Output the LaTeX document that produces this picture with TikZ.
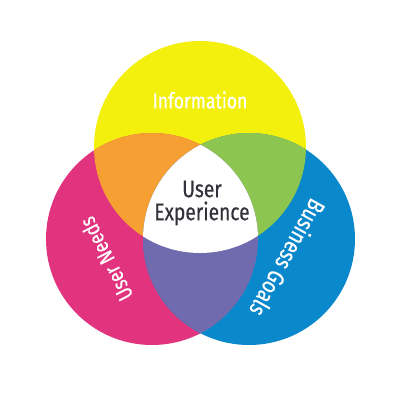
\documentclass[tikz,border=0pt]{standalone}
\usepackage{fontspec}
\usepackage{xcolor}
\usepackage{tikz}
\newfontfamily\vennfont{Fira Sans}[FakeStretch=0.8, FakeBold=0.4]
\definecolor{infoyellow}{RGB}{244, 240, 14}
\definecolor{needpink}{RGB}{226, 51, 126}
\definecolor{goalblue}{RGB}{10, 136, 204}
\definecolor{mixorange}{RGB}{246, 160, 51}
\definecolor{mixgreen}{RGB}{140, 197, 80}
\definecolor{mixpurple}{RGB}{111, 107, 174}
\definecolor{uxdark}{RGB}{50, 50, 58}
\tikzset{
  label/.style={font=\vennfont\fontsize{22bp}{24bp}\selectfont, text=white,
    inner sep=0pt, align=center},
  centre/.style={font=\vennfont\fontsize{24bp}{23bp}\selectfont, text=uxdark,
    inner sep=0pt, align=center},
}

\begin{document}
\begin{tikzpicture}[x=1bp, y=-1bp]

  % ── Canvas ──
  \useasboundingbox (0,0) rectangle (400,400);
  \fill[white] (0,0) rectangle (400,400);

  % ── Circle centres ──
  \coordinate (info)  at (200,147);
  \coordinate (needs) at (152,239);
  \coordinate (goals) at (249,239);
  \def\vennr{106}

  % ── Circles ──
  \fill[infoyellow] (info)  circle (\vennr);
  \fill[needpink]   (needs) circle (\vennr);
  \fill[goalblue]   (goals) circle (\vennr);

  % ── Overlaps ──
  \begin{scope}
    \clip (info) circle (\vennr);
    \fill[mixorange] (needs) circle (\vennr);
    \fill[mixgreen]  (goals) circle (\vennr);
  \end{scope}
  \begin{scope}
    \clip (needs) circle (\vennr);
    \fill[mixpurple] (goals) circle (\vennr);
    \clip (info) circle (\vennr);
    \fill[white] (goals) circle (\vennr);
  \end{scope}

  % ── Labels ──
  \node[label] (infotext) at (200,100) {Information};
  \node[label, rotate=117]  (needstext) at (106,259) {User Needs};
  \node[label, rotate=-119, font=\vennfont\fontsize{24bp}{26bp}\selectfont]
    (goalstext) at (288,258) {Business Goals};
  \node[centre] (ux) at (202,203) {User\\Experience};

\end{tikzpicture}
\end{document}
